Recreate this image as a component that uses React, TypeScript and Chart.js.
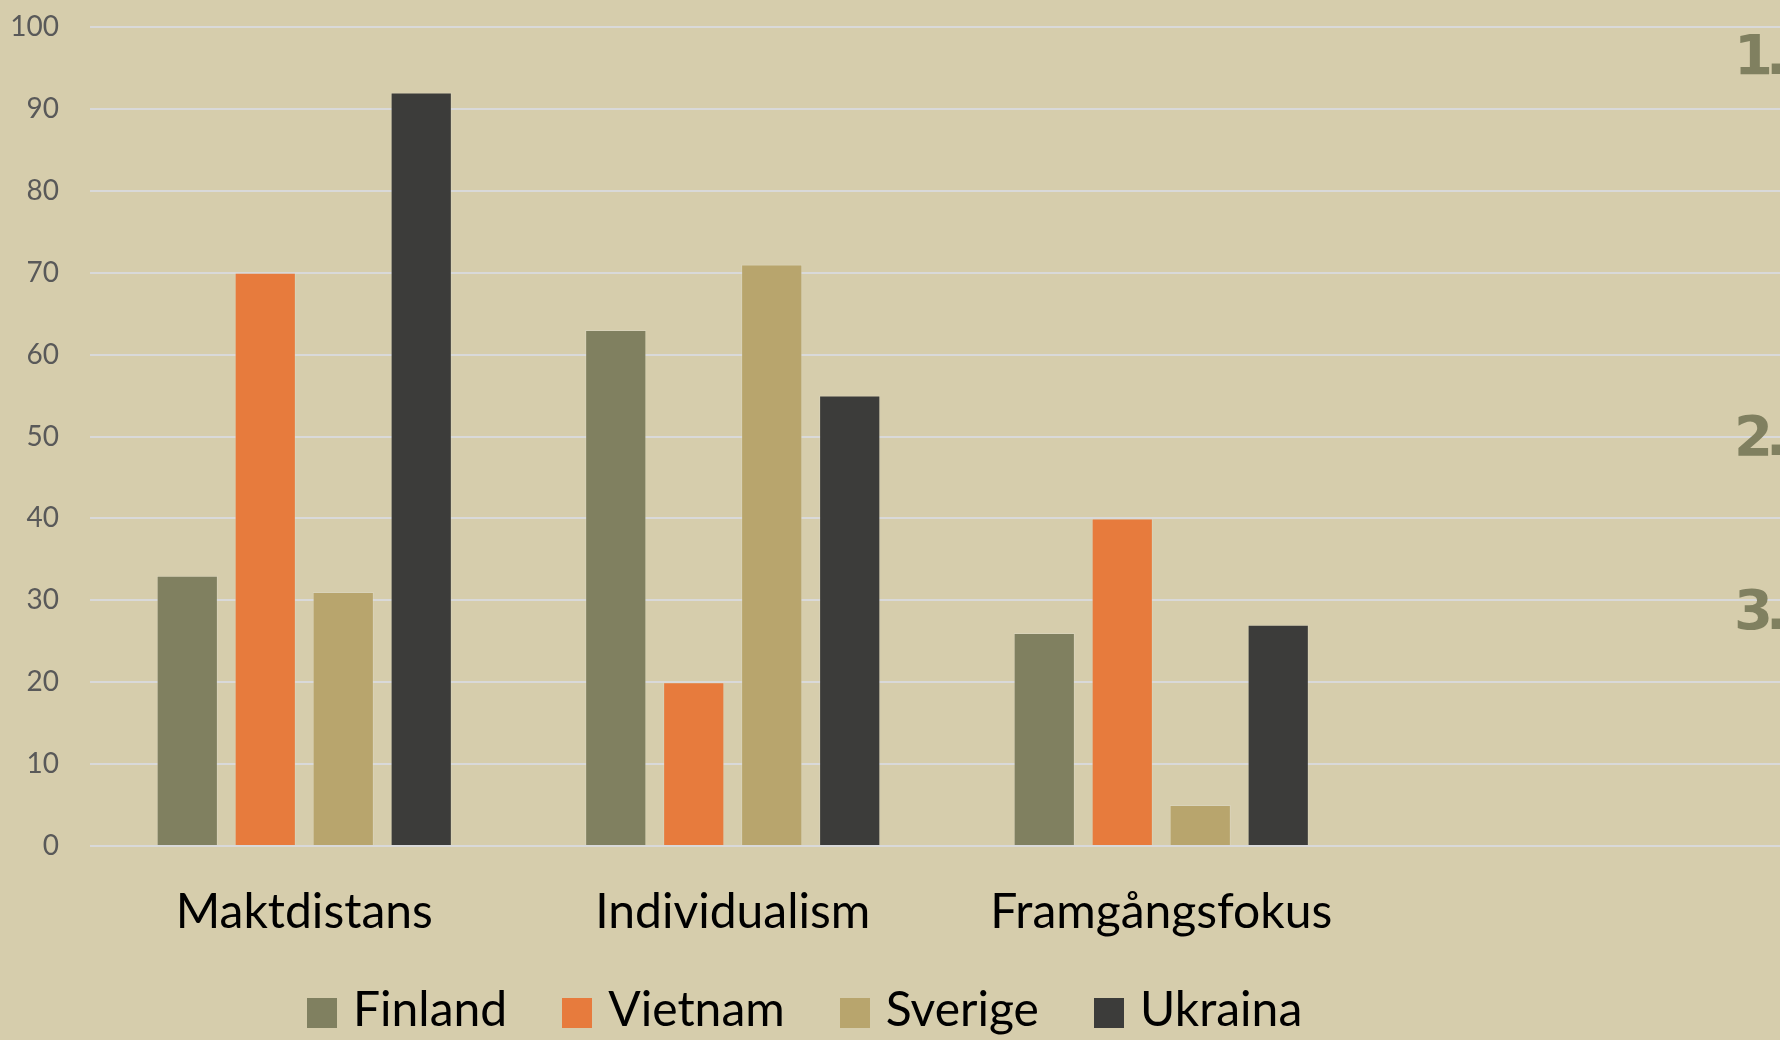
import React, { useEffect, useRef, useState } from "react";
import { Chart, registerables } from "chart.js";

Chart.register(...registerables);

const categories = ["Maktdistans", "Individualism", "Framgångsfokus", ""];
const seriesNames = ["Finland", "Vietnam", "Sverige", "Ukraina"];
const finland = [33, 63, 26, null];
const vietnam = [70, 20, 40, null];
const sverige = [31, 71, 5, null];
const ukraina = [92, 55, 27, null];
const seriesColors = ["#808060", "#E77B3D", "#B8A56D", "#3C3C3A"];
const yMin = 0;
const yMax = 100;
const yStep = 10;
const sideMarkers = ["1.", "2.", "3."];

const BG = "#D6CDAC";
const FONT = "Lato, 'Open Sans', sans-serif";

export default function App() {
  const canvasRef = useRef<HTMLCanvasElement | null>(null);
  const [legendItems, setLegendItems] = useState<{ text: string; color: string }[]>([]);

  useEffect(() => {
    document.body.style.margin = "0";
    const ctx = canvasRef.current;
    if (!ctx) return;
    const values = [finland, vietnam, sverige, ukraina];
    const chart = new Chart(ctx, {
      type: "bar",
      data: {
        labels: categories,
        datasets: seriesNames.map((name, i) => ({
          label: name,
          data: values[i],
          backgroundColor: seriesColors[i],
          borderColor: "rgba(225,225,215,0.3)",
          borderWidth: 1,
          categoryPercentage: 0.728,
          barPercentage: 0.785,
        })),
      },
      options: {
        animation: false,
        responsive: true,
        maintainAspectRatio: false,
        layout: { padding: { top: 27, left: 0, right: 0, bottom: 0 } },
        plugins: {
          legend: { display: false },
          tooltip: { enabled: false },
        },
        scales: {
          x: {
            grid: { display: false, drawTicks: false },
            border: { display: false },
            ticks: {
              color: "#000000",
              font: { family: FONT, size: 48 },
              padding: 38,
              maxRotation: 0,
              autoSkip: false,
            },
            afterFit: (scale: any) => {
              scale.height = 194;
            },
          },
          y: {
            min: yMin,
            max: yMax,
            grid: {
              color: "#D9D9D9",
              lineWidth: 2,
              drawTicks: true,
              tickLength: 31,
              tickColor: "rgba(0,0,0,0)",
            },
            border: { display: false },
            ticks: {
              stepSize: yStep,
              color: "#595959",
              font: { family: FONT, size: 28 },
              padding: 0,
            },
            afterFit: (scale: any) => {
              scale.width = 90;
            },
          },
        },
      },
    });
    setLegendItems(
      chart.data.datasets.map((d: any) => ({ text: d.label, color: d.backgroundColor }))
    );
    return () => chart.destroy();
  }, []);

  return (
    <div
      style={{
        position: "fixed",
        left: 0,
        top: 0,
        width: 1780,
        height: 1040,
        overflow: "hidden",
        background: BG,
      }}
    >
      <div style={{ position: "absolute", left: 0, top: 0, width: 1804, height: 1040 }}>
        <canvas ref={canvasRef} />
      </div>
      {sideMarkers.map((m, i) => (
        <span
          key={m}
          style={{
            position: "absolute",
            left: 1734,
            top: [27, 408, 582][i],
            fontFamily: "'DejaVu Sans', sans-serif",
            fontWeight: "bold",
            fontSize: 56,
            lineHeight: "56px",
            letterSpacing: -7,
            color: "#808060",
            whiteSpace: "nowrap",
          }}
        >
          {m}
        </span>
      ))}
      <div
        style={{
          position: "absolute",
          left: 307,
          top: 984,
          display: "flex",
          gap: 55,
          fontFamily: FONT,
          fontSize: 48,
          lineHeight: "48px",
          color: "#000",
          whiteSpace: "nowrap",
        }}
      >
        {legendItems.map((it) => (
          <div key={it.text} style={{ display: "flex", alignItems: "flex-start" }}>
            <div style={{ width: 30, height: 30, marginTop: 14, background: it.color }} />
            <span style={{ marginLeft: 16 }}>{it.text}</span>
          </div>
        ))}
      </div>
    </div>
  );
}
